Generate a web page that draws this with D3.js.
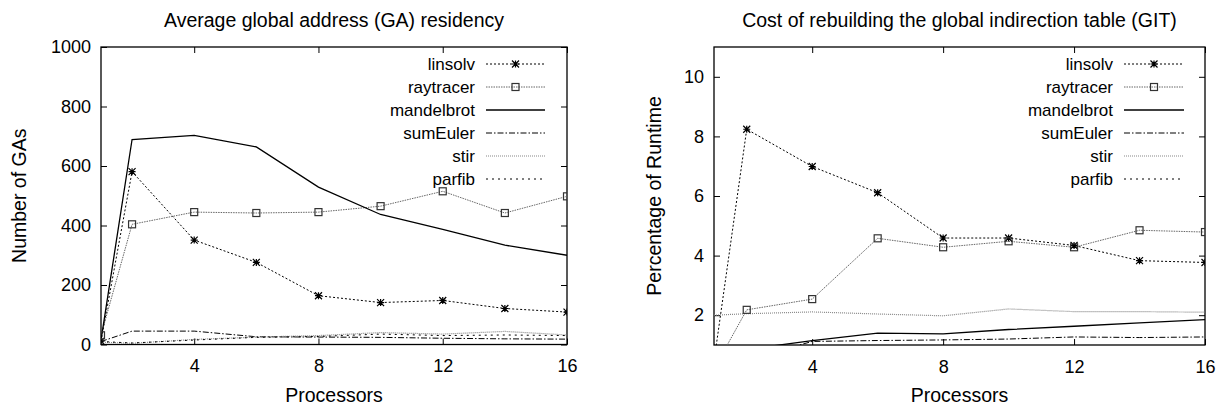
<!DOCTYPE html>
<html>
<head>
<meta charset="utf-8">
<script src="https://cdn.jsdelivr.net/npm/d3@7"></script>
<style>
  body { margin: 0; background: #fff; }
  text { font-family: "Liberation Sans", Arial, sans-serif; fill: #000; }
</style>
</head>
<body>
<div id="chart"></div>
<script>
// processors (x values) shared by both panels
const procs = [1, 2, 4, 6, 8, 10, 12, 14, 16];
const seriesNames = ["linsolv", "raytracer", "mandelbrot", "sumEuler", "stir", "parfib"];

// left panel: average GA residency (number of GAs)
const gaLinsolv    = [11, 581, 351, 276, 164, 141, 148, 121, 109];
const gaRaytracer  = [31, 404, 445, 442, 445, 465, 515, 442, 498];
const gaMandelbrot = [15, 689, 703, 664, 529, 437, 387, 334, 300];
const gaSumEuler   = [10, 45, 45, 26, 25, 24, 21, 19, 18];
const gaStir       = [8, 4, 17, 25, 30, 40, 35, 44, 32];
const gaParfib     = [10, 5, 15, 24, 27, 35, 30, 32, 30];

// right panel: GIT rebuild cost (% of runtime)
const gitLinsolv    = [0.45, 8.24, 6.99, 6.11, 4.59, 4.59, 4.34, 3.83, 3.77];
const gitRaytracer  = [0.2, 2.18, 2.54, 4.58, 4.28, 4.48, 4.28, 4.85, 4.79];
const gitMandelbrot = [0.5, 0.85, 1.15, 1.40, 1.37, 1.52, 1.63, 1.74, 1.85];
const gitSumEuler   = [0.3, 0.5, 1.12, 1.15, 1.17, 1.2, 1.27, 1.25, 1.27];
const gitStir       = [2.0, 2.05, 2.11, 2.04, 1.98, 2.21, 2.12, 2.12, 2.1];
const gitParfib     = [0.4, 0.4, 0.4, 0.4, 0.4, 0.4, 0.4, 0.4, 0.4];

const xTicks = [4, 8, 12, 16];
const gaTicks = [0, 200, 400, 600, 800, 1000];
const gitTicks = [2, 4, 6, 8, 10];

// line style per series
const styles = {
    linsolv:    {stroke: "#000", dash: "2,2", width: 1, marker: "star"},
    raytracer:  {stroke: "#666", dash: "1.5,1", width: 1, marker: "box"},
    mandelbrot: {stroke: "#000", dash: null, width: 1.3, marker: null},
    sumEuler:   {stroke: "#000", dash: "6,2,1.5,2", width: 1, marker: null},
    stir:       {stroke: "#888", dash: "1,1", width: 1.2, marker: null},
    parfib:     {stroke: "#000", dash: "2,4", width: 1, marker: null}
};

const svg = d3.select("#chart").append("svg")
    .attr("width", 1220)
    .attr("height", 408);

function drawPanel(p) {
    const g = svg.append("g");
    const xScale = d3.scaleLinear().domain([1, 16]).range([p.left, p.right]);
    const yScale = d3.scaleLinear().domain(p.yDomain).range([p.bottom, p.top]);

    const clipId = "clip-" + p.id;
    svg.append("clipPath").attr("id", clipId)
        .append("rect")
        .attr("x", p.left).attr("y", p.top)
        .attr("width", p.right - p.left).attr("height", p.bottom - p.top);

    // axes with inward ticks, mirrored on the opposite side
    g.append("g")
        .attr("transform", `translate(0, ${p.bottom})`)
        .call(d3.axisBottom(xScale).tickValues(xTicks).tickSizeInner(-6).tickSizeOuter(0).tickPadding(15));
    g.append("g")
        .attr("transform", `translate(0, ${p.top})`)
        .call(d3.axisTop(xScale).tickValues(xTicks).tickSizeInner(-6).tickSizeOuter(0).tickFormat(""));
    g.append("g")
        .attr("transform", `translate(${p.left}, 0)`)
        .call(d3.axisLeft(yScale).tickValues(p.yTicks).tickSizeInner(-6).tickSizeOuter(0)
            .tickPadding(10).tickFormat(d3.format("d")));
    g.append("g")
        .attr("transform", `translate(${p.right}, 0)`)
        .call(d3.axisRight(yScale).tickValues(p.yTicks).tickSizeInner(-6).tickSizeOuter(0).tickFormat(""));

    g.selectAll(".domain").remove();
    g.selectAll(".tick line").attr("stroke", "#000");
    g.selectAll(".tick text")
        .style("font-family", "Liberation Sans, Arial, sans-serif")
        .style("font-size", "18px")
        .attr("fill", "#000");

    g.append("rect")
        .attr("x", p.left).attr("y", p.top)
        .attr("width", p.right - p.left).attr("height", p.bottom - p.top)
        .attr("fill", "none").attr("stroke", "#000").attr("stroke-width", 1.3);

    // series lines
    const line = d3.line()
        .x(function (d) {return xScale(d.x);})
        .y(function (d) {return yScale(d.y);});

    const plot = g.append("g").attr("clip-path", `url(#${clipId})`);
    p.series.forEach(function (s) {
        const st = styles[s.name];
        const pts = procs.map(function (x, i) {return {x: x, y: s.values[i]};});
        plot.append("path")
            .datum(pts)
            .attr("d", line)
            .attr("fill", "none")
            .attr("stroke", st.stroke)
            .attr("stroke-width", st.width)
            .attr("stroke-dasharray", st.dash);
    });
    p.series.forEach(function (s) {
        const st = styles[s.name];
        if (!st.marker) return;
        const pts = procs.map(function (x, i) {return {x: x, y: s.values[i]};})
            .filter(function (d) {return d.y >= p.yDomain[0] && d.y <= p.yDomain[1];});
        pts.forEach(function (d) {
            drawMarker(plot, st.marker, xScale(d.x), yScale(d.y));
        });
    });

    // legend
    const leg = g.append("g");
    p.series.forEach(function (s, i) {
        const st = styles[s.name];
        const y = p.legendTop + i * 23;
        leg.append("text")
            .attr("x", p.legendText)
            .attr("y", y + 6)
            .attr("text-anchor", "end")
            .style("font-size", "17px")
            .text(s.name);
        leg.append("line")
            .attr("x1", p.legendLine[0]).attr("x2", p.legendLine[1])
            .attr("y1", y).attr("y2", y)
            .attr("stroke", st.stroke)
            .attr("stroke-width", st.width)
            .attr("stroke-dasharray", st.dash);
        if (st.marker) drawMarker(leg, st.marker, (p.legendLine[0] + p.legendLine[1]) / 2, y);
    });

    // titles
    g.append("text")
        .attr("x", (p.left + p.right) / 2)
        .attr("y", 27)
        .attr("text-anchor", "middle")
        .style("font-size", "19.5px")
        .text(p.title);
    g.append("text")
        .attr("x", (p.left + p.right) / 2)
        .attr("y", 402)
        .attr("text-anchor", "middle")
        .style("font-size", "19.5px")
        .text("Processors");
    g.append("text")
        .attr("transform", `translate(${p.yLabelX}, ${(p.top + p.bottom) / 2}) rotate(-90)`)
        .attr("text-anchor", "middle")
        .style("font-size", "19.5px")
        .text(p.yLabel);
}

function drawMarker(sel, type, cx, cy) {
    if (type === "star") {
        const r = 3.5;
        sel.append("path")
            .attr("d", `M${cx - r},${cy}H${cx + r}M${cx},${cy - r}V${cy + r}` +
                `M${cx - r},${cy - r}L${cx + r},${cy + r}M${cx - r},${cy + r}L${cx + r},${cy - r}`)
            .attr("stroke", "#000").attr("stroke-width", 1.2).attr("fill", "none");
    } else if (type === "box") {
        sel.append("rect")
            .attr("x", cx - 3.5).attr("y", cy - 3.5)
            .attr("width", 7).attr("height", 7)
            .attr("fill", "none").attr("stroke", "#333").attr("stroke-width", 1.2);
    }
}

drawPanel({
    id: "ga", left: 101, right: 567, top: 47, bottom: 344.5,
    yDomain: [0, 1000], yTicks: gaTicks,
    title: "Average global address (GA) residency",
    yLabel: "Number of GAs", yLabelX: 26,
    legendTop: 64, legendText: 475, legendLine: [486, 545],
    series: [
        {name: "linsolv", values: gaLinsolv},
        {name: "raytracer", values: gaRaytracer},
        {name: "mandelbrot", values: gaMandelbrot},
        {name: "sumEuler", values: gaSumEuler},
        {name: "stir", values: gaStir},
        {name: "parfib", values: gaParfib}
    ]
});

drawPanel({
    id: "git", left: 714, right: 1205, top: 47, bottom: 345,
    yDomain: [1, 11], yTicks: gitTicks,
    title: "Cost of rebuilding the global indirection table (GIT)",
    yLabel: "Percentage of Runtime", yLabelX: 661,
    legendTop: 64, legendText: 1113, legendLine: [1124, 1184],
    series: [
        {name: "linsolv", values: gitLinsolv},
        {name: "raytracer", values: gitRaytracer},
        {name: "mandelbrot", values: gitMandelbrot},
        {name: "sumEuler", values: gitSumEuler},
        {name: "stir", values: gitStir},
        {name: "parfib", values: gitParfib}
    ]
});
</script>
</body>
</html>
